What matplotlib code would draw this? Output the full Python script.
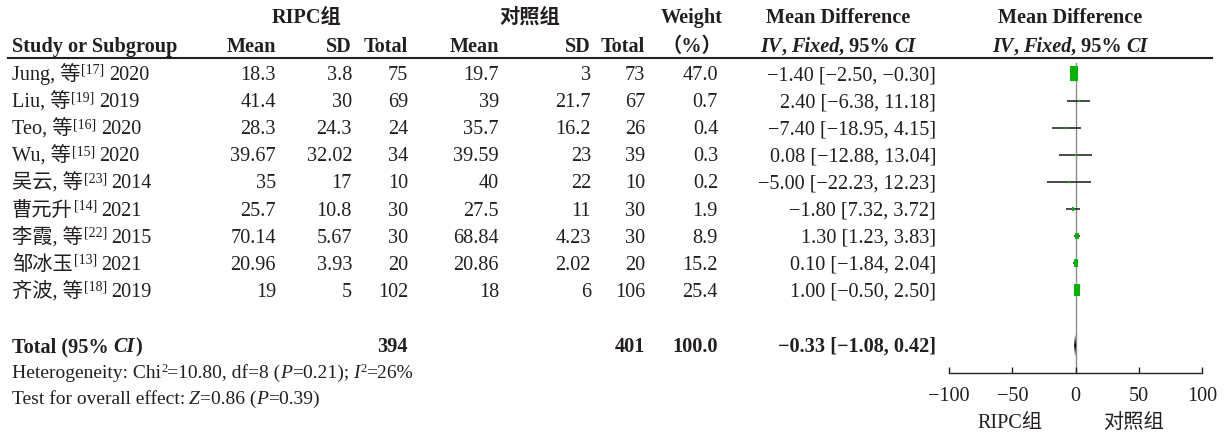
import matplotlib
matplotlib.use('Agg')
import matplotlib.pyplot as plt
import numpy as np

plt.rcParams['font.family'] = ['Liberation Serif', 'Noto Sans CJK SC']
plt.rcParams['text.color'] = '#231f20'

# 数据
authors = ['Jung, 等', 'Liu, 等', 'Teo, 等', 'Wu, 等', '吴云, 等', '曹元升', '李霞, 等', '邹冰玉', '齐波, 等']
refs = ['17', '19', '16', '15', '23', '14', '22', '13', '18']
years = [2020, 2019, 2020, 2020, 2014, 2021, 2015, 2021, 2019]
ripc_mean = [18.3, 41.4, 28.3, 39.67, 35, 25.7, 70.14, 20.96, 19]
ripc_sd = [3.8, 30, 24.3, 32.02, 17, 10.8, 5.67, 3.93, 5]
ripc_n = [75, 69, 24, 34, 10, 30, 30, 20, 102]
ctrl_mean = [19.7, 39, 35.7, 39.59, 40, 27.5, 68.84, 20.86, 18]
ctrl_sd = [3, 21.7, 16.2, 23, 22, 11, 4.23, 2.02, 6]
ctrl_n = [73, 67, 26, 39, 10, 30, 30, 20, 106]
weight = [47.0, 0.7, 0.4, 0.3, 0.2, 1.9, 8.9, 15.2, 25.4]
md = [-1.40, 2.40, -7.40, 0.08, -5.00, -1.80, 1.30, 0.10, 1.00]
ci_lo = [-2.50, -6.38, -18.95, -12.88, -22.23, -7.32, -1.23, -1.84, -0.50]
ci_hi = [-0.30, 11.18, 4.15, 13.04, 12.23, 3.72, 3.83, 2.04, 2.50]
md_text = ['−1.40 [−2.50, −0.30]', '2.40 [−6.38, 11.18]', '−7.40 [−18.95, 4.15]',
           '0.08 [−12.88, 13.04]', '−5.00 [−22.23, 12.23]', '−1.80 [7.32, 3.72]',
           '1.30 [1.23, 3.83]', '0.10 [−1.84, 2.04]', '1.00 [−0.50, 2.50]']
total_n = [394, 401]
total_w = 100.0
total_md, total_lo, total_hi = -0.33, -1.08, 0.42
ticks = [-100, -50, 0, 50, 100]

W, H = 1227, 436
fig = plt.figure(figsize=(W / 100, H / 100), dpi=100)

# 表格部分，用像素坐标
tab = fig.add_axes([0, 0, 1, 1])
tab.set_xlim(0, W)
tab.set_ylim(H, 0)
tab.axis('off')

FS = 14.6
r = fig.canvas.get_renderer()


def pieces(x, y, parts, ha='left'):
    # parts: (文字, 参数)，依次排列
    texts = []
    dx = 0
    for s, kw in parts:
        kw = dict(kw)
        dy = kw.pop('dy', 0)
        dx += kw.pop('pad', 0)
        kw.setdefault('fontsize', FS)
        t = tab.annotate(s, (x, y), xytext=(dx, dy), textcoords='offset pixels',
                         va='baseline', ha='left', **kw)
        dx += t.get_window_extent(r).width
        texts.append(t)
    if ha != 'left':
        shift = dx if ha == 'right' else dx / 2
        for t in texts:
            t.xyann = (t.xyann[0] - shift, t.xyann[1])
    return texts


def txt(x, y, s, ha='right', **kw):
    kw.setdefault('fontsize', FS)
    tab.text(x, y, s, ha=ha, va='baseline', **kw)


# 表头
txt(307, 23, 'RIPC组', ha='center', fontweight='bold')
txt(530, 23, '对照组', ha='center', fontweight='bold')
txt(692, 23, 'Weight', ha='center', fontweight='bold')
txt(838, 23, 'Mean Difference', ha='center', fontweight='bold')
txt(1070, 23, 'Mean Difference', ha='center', fontweight='bold')
txt(12, 52, 'Study or Subgroup', ha='left', fontweight='bold')
for xr, s in [(276, 'Mean'), (352, 'SD'), (408, 'Total'), (499, 'Mean'), (591, 'SD'), (645, 'Total')]:
    txt(xr, 52, s, fontweight='bold')
txt(692, 52, '（%）', ha='center', fontweight='bold')
bi = dict(fontweight='bold', fontstyle='italic')
bb = dict(fontweight='bold')
for xc in (838, 1070):
    pieces(xc, 52, [('IV', bi), (',', bb), ('Fixed', dict(bi, pad=4)), (', 95%', bb), ('CI', dict(bi, pad=4))],
           ha='center')
tab.plot([8, 1212], [58, 58], color='#231f20', lw=1.5)

# 各研究
y0, dy = 80, 27.1
for i in range(len(authors)):
    yb = y0 + i * dy
    pieces(12, yb, [(authors[i], {}), ('[' + refs[i] + ']', dict(fontsize=10, dy=6, pad=1)),
                    (str(years[i]), dict(pad=4))])
    txt(276, yb, f'{ripc_mean[i]:g}')
    txt(352, yb, f'{ripc_sd[i]:g}')
    txt(408, yb, str(ripc_n[i]))
    txt(499, yb, f'{ctrl_mean[i]:g}')
    txt(591, yb, f'{ctrl_sd[i]:g}')
    txt(645, yb, str(ctrl_n[i]))
    txt(718, yb, f'{weight[i]:.1f}')
    txt(936, yb, md_text[i])

# 合计
yt = 352
pieces(12, yt, [('Total (95% ', bb), ('CI', bi), (')', bb)])
txt(408, yt, str(total_n[0]), fontweight='bold')
txt(645, yt, str(total_n[1]), fontweight='bold')
txt(718, yt, f'{total_w:.1f}', fontweight='bold')
txt(936, yt, f'{total_md:.2f} [{total_lo:.2f}, {total_hi:.2f}]'.replace('-', '−'), fontweight='bold')

fs2 = 14
it = dict(fontstyle='italic', fontsize=fs2)
nm = dict(fontsize=fs2)
sup = dict(fontsize=9, dy=6)
pieces(12, 378, [('Heterogeneity: Chi', nm), ('2', sup), ('=10.80, df=8 (', nm), ('P', it),
                 ('=0.21);', nm), ('I', dict(it, pad=4)), ('2', sup), ('=26%', nm)])
pieces(12, 404, [('Test for overall effect:', nm), ('Z', dict(it, pad=4)), ('=0.86 (', nm),
                 ('P', it), ('=0.39)', nm)])

# 森林图
x_l, x_r, y_top, y_ax = 949, 1202, 58, 373
ax = fig.add_axes([x_l / W, 1 - y_ax / H, (x_r - x_l) / W, (y_ax - y_top) / H])
row_px = y0 - 6.5
ax.set_xlim(-100, 100)
ax.set_ylim((y_ax - row_px) / dy, (y_top - row_px) / dy)
ax.patch.set_visible(False)
for s in ['top', 'left', 'right']:
    ax.spines[s].set_visible(False)
ax.spines['bottom'].set_color('#231f20')
ax.spines['bottom'].set_linewidth(1.0)
ax.set_yticks([])
ax.set_xticks(ticks)
ax.tick_params(axis='x', direction='in', length=4.5, width=1, pad=10, labelsize=FS,
               colors='#231f20')
ax.axvline(0, ymin=0, ymax=0.985, color='#8c8c8c', lw=1.0, zorder=1)

rect = [(-0.28, -0.5), (0.28, -0.5), (0.28, 0.5), (-0.28, 0.5), (-0.28, -0.5)]
rows = np.arange(len(md))
ax.hlines(rows, ci_lo, ci_hi, color='#2a2a2a', lw=1.2, zorder=2)
for i in rows:
    h_px = max(15 * np.sqrt(weight[i] / 47.0), 2.2)
    ax.plot(md[i], i, marker=rect, markersize=h_px * 0.72, color='#00b400',
            markeredgewidth=0, zorder=3)

yt_row = (yt - 6.5 - row_px) / dy
hh = 0.4
ax.fill([total_lo, total_md, total_hi, total_md],
        [yt_row, yt_row - hh, yt_row, yt_row + hh], color='black', lw=0, zorder=4)

txt(1010, 428, 'RIPC组', ha='center', fontsize=FS)
txt(1133, 428, '对照组', ha='center', fontsize=FS)

fig.savefig('out.png', dpi=100)
